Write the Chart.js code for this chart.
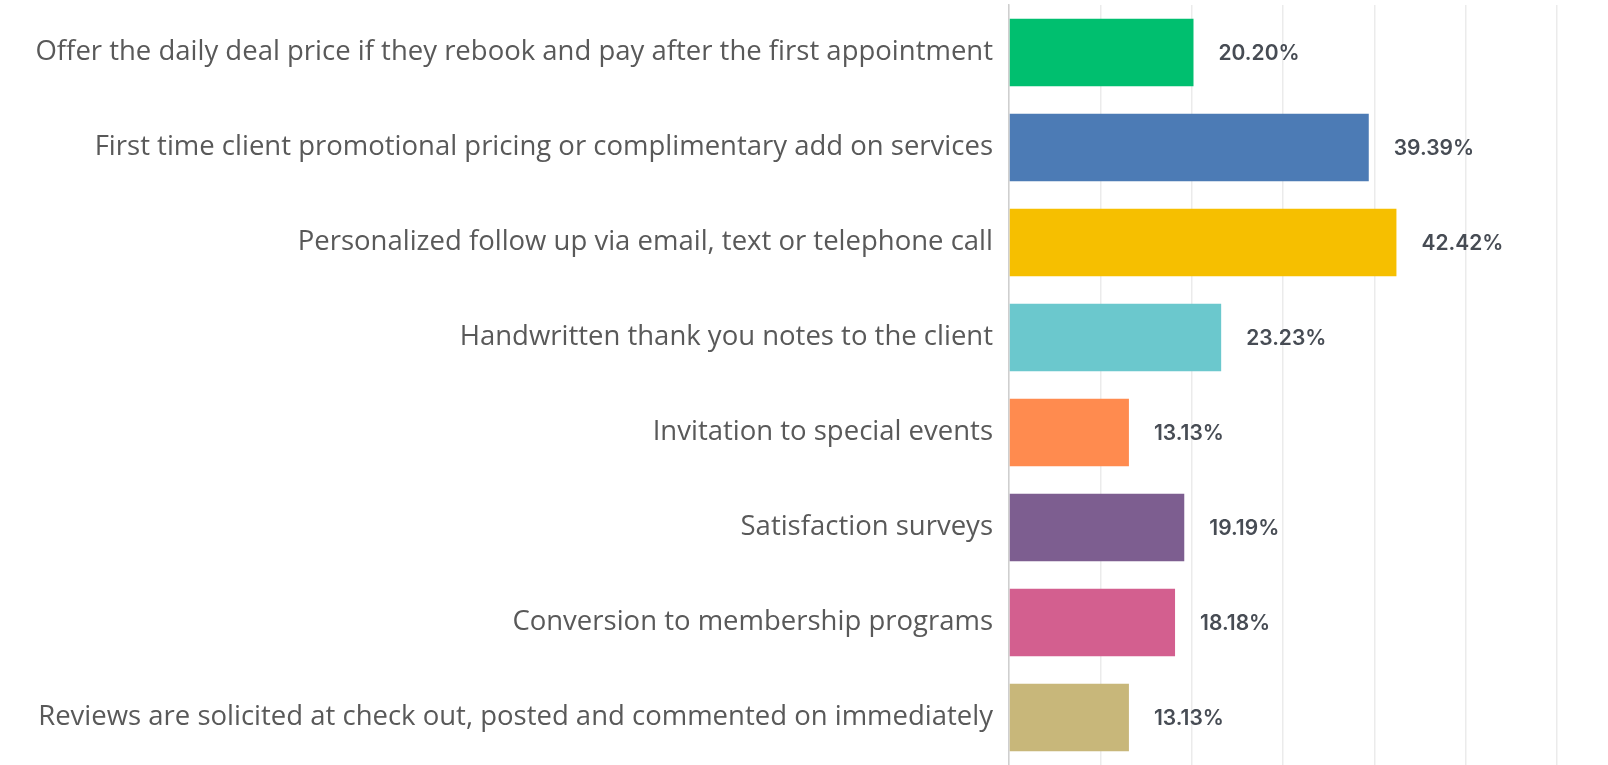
<!DOCTYPE html>
<html>
<head>
<meta charset="utf-8">
<script src="https://cdn.jsdelivr.net/npm/chart.js@4"></script>
<style>
  html, body { margin: 0; padding: 0; background: #fff; }
  #wrap { width: 1608px; height: 765px; }
</style>
</head>
<body>
<div id="wrap"><canvas id="chart"></canvas></div>
<script>
// chart data
const categories = [
    'Offer the daily deal price if they rebook and pay after the first appointment',
    'First time client promotional pricing or complimentary add on services',
    'Personalized follow up via email, text or telephone call',
    'Handwritten thank you notes to the client',
    'Invitation to special events',
    'Satisfaction surveys',
    'Conversion to membership programs',
    'Reviews are solicited at check out, posted and commented on immediately'
];
const percentValues = [20.20, 39.39, 42.42, 23.23, 13.13, 19.19, 18.18, 13.13];
const barColors = ['#00bf6f', '#4c7bb5', '#f6bf00', '#6bc8cd', '#ff8b4f', '#7d5e90', '#d35f8f', '#c8b77a'];

// draws the "xx.xx%" text next to each bar
const valueLabels = {
    id: 'valueLabels',
    afterDatasetsDraw(chart) {
        const ctx = chart.ctx;
        const meta = chart.getDatasetMeta(0);
        ctx.save();
        ctx.font = '600 21px Inter, Roboto, sans-serif';
        ctx.fillStyle = '#474c54';
        ctx.textAlign = 'left';
        ctx.textBaseline = 'middle';
        meta.data.forEach((bar, i) => {
            ctx.fillText(percentValues[i].toFixed(2) + '%', bar.x + 25, bar.y + 1);
        });
        ctx.restore();
    }
};

const ctx = document.getElementById('chart').getContext('2d');
new Chart(ctx, {
    type: 'bar',
    data: {
        labels: categories,
        datasets: [{
            data: percentValues,
            backgroundColor: barColors,
            borderWidth: 0,
            barPercentage: 0.71,
            categoryPercentage: 1
        }]
    },
    options: {
        indexAxis: 'y',
        responsive: true,
        maintainAspectRatio: false,
        animation: false,
        layout: { padding: { top: 5, right: 51, bottom: 0, left: 0 } },
        plugins: {
            legend: { display: false },
            tooltip: { enabled: false }
        },
        scales: {
            x: {
                min: 0,
                max: 60,
                ticks: { display: false, stepSize: 10 },
                grid: { color: '#ebebeb', lineWidth: 1.5, drawTicks: false },
                border: { display: false },
                afterFit(scale) { scale.height = 0; }
            },
            y: {
                ticks: {
                    color: '#595959',
                    font: { family: '"Open Sans", sans-serif', size: 27.5 },
                    padding: 16
                },
                grid: { display: false, drawTicks: false },
                border: { display: true, color: '#cfcfcf', width: 1.5 },
                afterFit(scale) {
                    scale.width = 1009;
                    scale.paddingTop = 0;
                    scale.paddingBottom = 0;
                }
            }
        }
    },
    plugins: [valueLabels]
});
</script>
</body>
</html>
